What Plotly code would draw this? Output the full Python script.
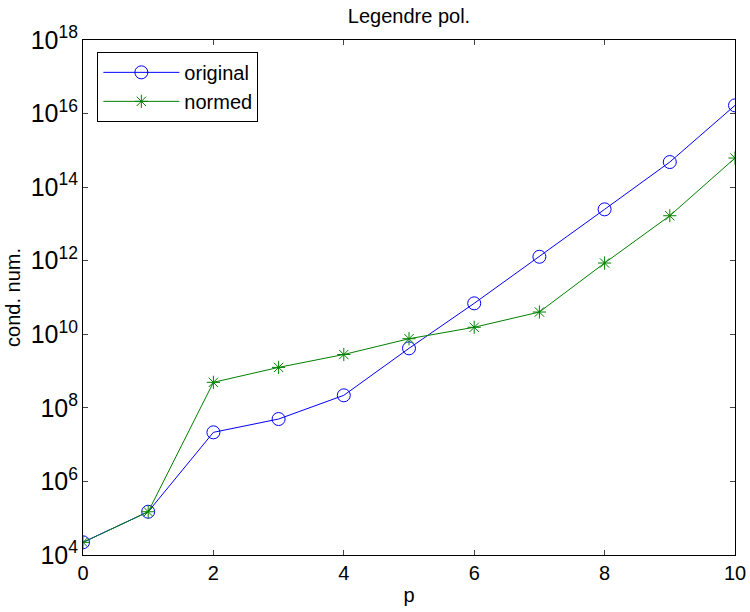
import plotly.graph_objects as go

p = list(range(11))
original = [2.21e4, 1.50e5, 2.16e7, 4.97e7, 2.19e8, 4.15e9, 6.94e10, 1.28e12, 2.49e13, 4.81e14, 1.67e16]
normed = [2.21e4, 1.50e5, 4.94e8, 1.26e9, 2.82e9, 7.57e9, 1.55e10, 4.03e10, 8.65e11, 1.67e13, 6.18e14]

font_family = "Liberation Sans, Arial, sans-serif"

fig = go.Figure()
fig.add_trace(go.Scatter(
    x=p, y=original, name="original", mode="lines+markers",
    line=dict(color="rgb(0,0,255)", width=1),
    marker=dict(symbol="circle-open", size=13, color="rgb(0,0,255)", line=dict(width=1)),
))
fig.add_trace(go.Scatter(
    x=p, y=normed, name="normed", mode="lines+markers",
    line=dict(color="rgb(0,128,0)", width=1),
    marker=dict(symbol="asterisk-open", size=11, color="rgb(0,128,0)", line=dict(width=1, color="rgb(0,128,0)")),
))

fig.update_layout(
    width=750, height=612,
    margin=dict(l=83, r=15, t=40, b=57),
    paper_bgcolor="white", plot_bgcolor="white",
    font=dict(family=font_family, color="black", size=20),
    title=dict(text="Legendre pol.", x=409 / 750, xanchor="center", y=0.986, yanchor="top",
               font=dict(size=20, family=font_family)),
    showlegend=True,
    legend=dict(x=0.022, y=0.977, xanchor="left", yanchor="top",
                bordercolor="black", borderwidth=1, bgcolor="white",
                font=dict(size=20, family=font_family), tracegroupgap=0,
                itemwidth=76),
    xaxis=dict(
        range=[0, 10], tickvals=[0, 2, 4, 6, 8, 10], ticks="inside", ticklen=5,
        showline=True, linecolor="black", linewidth=1, mirror="ticks", showgrid=False,
        zeroline=False, tickfont=dict(size=20), automargin=False,
        title=dict(text="p", font=dict(size=20), standoff=4),
    ),
    yaxis=dict(
        type="log", range=[4, 18], dtick=2, exponentformat="power", ticks="inside", ticklen=5,
        showline=True, linecolor="black", linewidth=1, mirror="ticks", showgrid=False,
        zeroline=False, tickfont=dict(size=20), automargin=False,
        title=dict(text="cond. num.", font=dict(size=20), standoff=4),
    ),
)

fig.write_html("out.html")
